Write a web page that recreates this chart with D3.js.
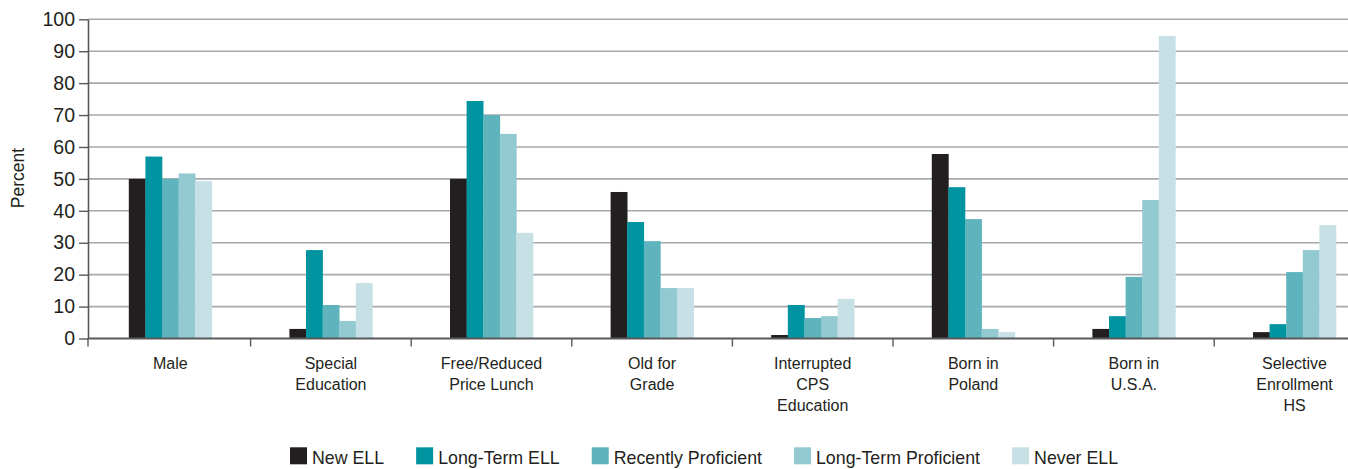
<!DOCTYPE html>
<html>
<head>
<meta charset="utf-8">
<script src="https://cdn.jsdelivr.net/npm/d3@7"></script>
<style>
  html, body { margin: 0; padding: 0; background: #ffffff; }
  svg { display: block; }
  text { font-family: "Liberation Sans", Arial, Helvetica, sans-serif; fill: #231f20; }
</style>
</head>
<body>
<svg id="chart" width="1348" height="469"></svg>
<script>
// ---- data ----
const categories = [
  ["Male"],
  ["Special", "Education"],
  ["Free/Reduced", "Price Lunch"],
  ["Old for", "Grade"],
  ["Interrupted", "CPS", "Education"],
  ["Born in", "Poland"],
  ["Born in", "U.S.A."],
  ["Selective", "Enrollment", "HS"]
];
const seriesNames = ["New ELL", "Long-Term ELL", "Recently Proficient", "Long-Term Proficient", "Never ELL"];
const newELL            = [50, 3.0, 50, 45.9, 1.1, 57.8, 3.0, 2.0];
const longTermELL       = [57, 27.7, 74.4, 36.5, 10.5, 47.4, 7.0, 4.5];
const recentlyProficient = [50, 10.5, 70.0, 30.5, 6.4, 37.4, 19.3, 20.8];
const longTermProficient = [51.7, 5.5, 64.1, 15.8, 7.0, 3.0, 43.4, 27.7];
const neverELL          = [49.3, 17.4, 33.1, 15.8, 12.4, 2.0, 94.8, 35.5];
const yTicks = [0, 10, 20, 30, 40, 50, 60, 70, 80, 90, 100];
const colors = ["#231f20", "#0093a0", "#5eb3bc", "#93c9d1", "#c6e0e5"];

const seriesValues = [newELL, longTermELL, recentlyProficient, longTermProficient, neverELL];
const catKeys = categories.map(c => c.join(" "));

// ---- layout ----
const svg = d3.select("#chart");
const axisX = 88, plotRight = 1348;
const y = d3.scaleLinear().domain([0, 100]).range([338.5, 19.3]);
const x0 = d3.scaleBand().domain(catKeys).range([90, 90 + 8 * 160.6]).padding(0);
const groupW = 83;
const x1 = d3.scaleBand().domain(seriesNames).range([0, groupW]).padding(0);
const color = d3.scaleOrdinal().domain(seriesNames).range(colors);

// gridlines
svg.append("g").selectAll("line").data(yTicks.filter(t => t > 0)).join("line")
  .attr("x1", axisX).attr("x2", plotRight)
  .attr("y1", d => y(d)).attr("y2", d => y(d))
  .attr("stroke", "#a7a9ac").attr("stroke-width", 1.6);

// bars
const groups = svg.append("g").selectAll("g").data(catKeys).join("g")
  .attr("transform", d => `translate(${x0(d) + (x0.bandwidth() - groupW) / 2},0)`);
groups.selectAll("rect")
  .data((d, i) => seriesNames.map((s, j) => ({ s, v: seriesValues[j][i] })))
  .join("rect")
  .attr("x", d => x1(d.s))
  .attr("width", x1.bandwidth() + 0.3)
  .attr("y", d => y(d.v))
  .attr("height", d => y(0) - y(d.v))
  .attr("fill", d => color(d.s));

// y axis
const yAxis = svg.append("g").attr("transform", `translate(${axisX},0)`)
  .call(d3.axisLeft(y).tickValues(yTicks).tickSize(9).tickPadding(4).tickSizeOuter(0));
yAxis.select(".domain").attr("stroke", "#58595b").attr("stroke-width", 1.6);
yAxis.selectAll(".tick line").attr("stroke", "#58595b").attr("stroke-width", 1.4);
yAxis.selectAll(".tick text").attr("font-size", 19.5).attr("fill", "#231f20")
  .style("font-family", '"Liberation Sans", Arial, sans-serif');

// x axis line
svg.append("line").attr("x1", axisX).attr("x2", plotRight)
  .attr("y1", y(0)).attr("y2", y(0))
  .attr("stroke", "#58595b").attr("stroke-width", 1.8);

// x ticks at band boundaries
const boundaries = catKeys.map(k => x0(k)).concat([x0(catKeys[7]) + x0.step()]);
boundaries[0] = axisX;
svg.append("g").selectAll("line").data(boundaries).join("line")
  .attr("x1", d => d).attr("x2", d => d)
  .attr("y1", y(0)).attr("y2", y(0) + 8)
  .attr("stroke", "#58595b").attr("stroke-width", 1.4);

// x labels
const lab = svg.append("g").selectAll("text").data(categories).join("text")
  .attr("text-anchor", "middle")
  .attr("font-size", 16);
lab.each(function(lines, i) {
  const cx = x0(catKeys[i]) + x0.bandwidth() / 2;
  d3.select(this).selectAll("tspan").data(lines).join("tspan")
    .attr("x", cx)
    .attr("y", (d, k) => 369 + k * 21)
    .text(d => d);
});

// y axis title
svg.append("text")
  .attr("transform", "translate(24,178) rotate(-90)")
  .attr("text-anchor", "middle")
  .attr("font-size", 17.5)
  .text("Percent");

// legend
const legend = svg.append("g");
let lx = 290;
seriesNames.forEach((s, i) => {
  legend.append("rect").attr("x", lx).attr("y", 447.3).attr("width", 17).attr("height", 17)
    .attr("fill", color(s));
  const t = legend.append("text").attr("x", lx + 22).attr("y", 463.5)
    .attr("font-size", 17.8).text(s);
  lx = lx + 22 + t.node().getComputedTextLength() + 32;
});
</script>
</body>
</html>
